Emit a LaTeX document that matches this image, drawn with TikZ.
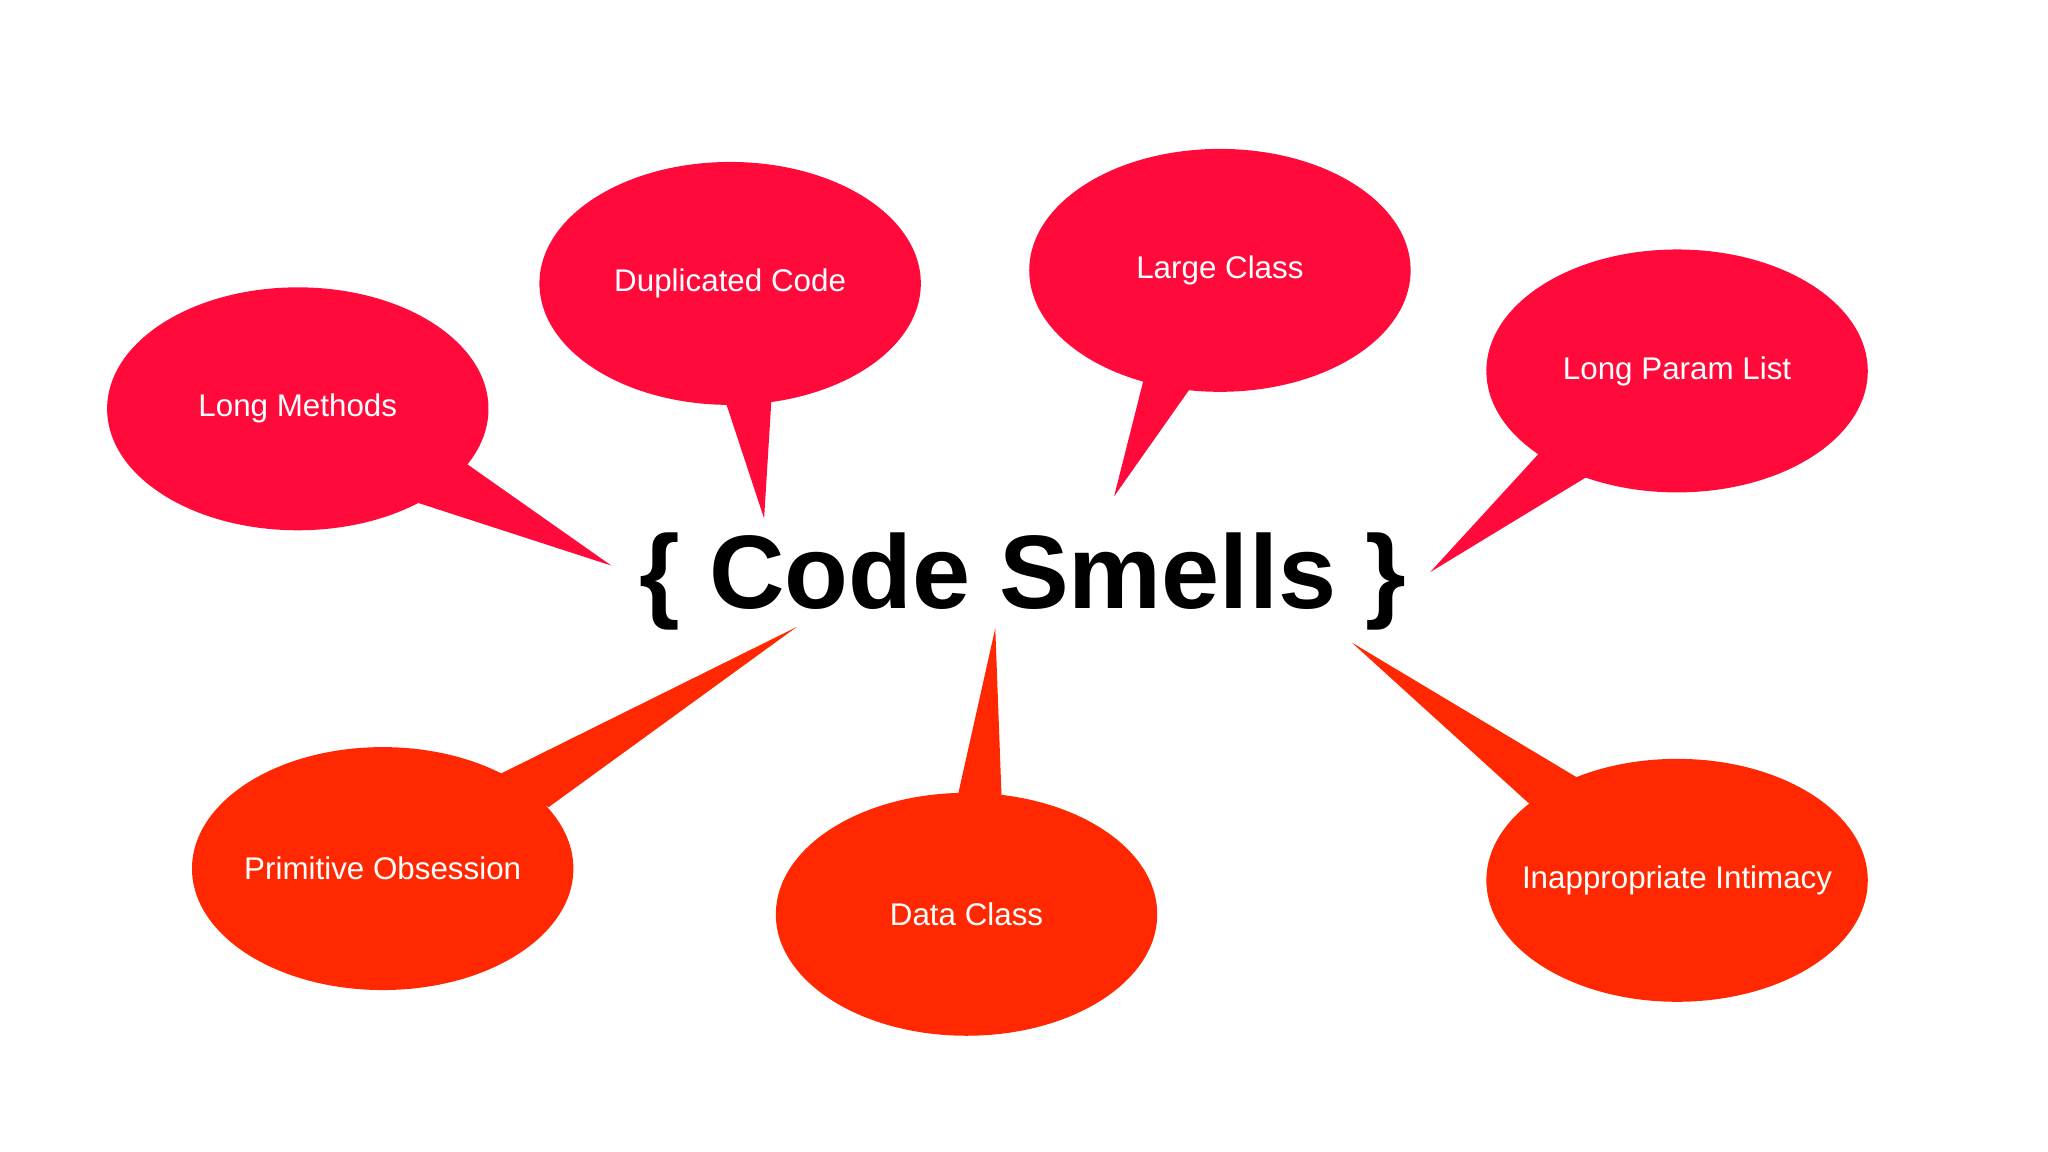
\documentclass[tikz,border=0pt]{standalone}
\usepackage{fontspec}
\setmainfont{Liberation Sans}
\definecolor{pinkred}{HTML}{FF0A3A}
\definecolor{orangered}{HTML}{FF2800}
\tikzset{
  bubble/.style={ellipse shape/.style={}},
  lbl/.style={text=white,font=\fontsize{24}{28}\selectfont},
}
\begin{document}
\begin{tikzpicture}[x=1pt,y=-1pt]
\useasboundingbox[fill=white] (0,0) rectangle (1568,882);
\node[font=\bfseries\fontsize{80}{90}\selectfont] (title) at (783,445) {\{ Code Smells \}};
\coordinate (t1) at (468,433);
\coordinate (t2) at (585,397);
\coordinate (t3) at (853,380);
\coordinate (t4) at (1095,438);
\coordinate (t5) at (610,480);
\coordinate (t6) at (762,481);
\coordinate (t7) at (1035,492);
% top
\fill[pinkred] (228,313) ellipse[x radius=146,y radius=93];
\fill[pinkred] (350,350) -- (320,385) -- (t1) -- cycle;
\node[lbl] (a) at (228,313) {Long Methods};
\fill[pinkred] (559,217) ellipse[x radius=146,y radius=93];
\fill[pinkred] (553,300) -- (591,300) -- (t2) -- cycle;
\node[lbl] (b) at (559,217) {Duplicated Code};
\fill[pinkred] (934,207) ellipse[x radius=146,y radius=93];
\fill[pinkred] (877,285) -- (915,292) -- (t3) -- cycle;
\node[lbl] (c) at (934,207) {Large Class};
\fill[pinkred] (1284,284) ellipse[x radius=146,y radius=93];
\fill[pinkred] (1183,342) -- (1220,362) -- (t4) -- cycle;
\node[lbl] (d) at (1284,284) {Long Param List};
% bottom
\fill[orangered] (293,665) ellipse[x radius=146,y radius=93];
\fill[orangered] (378,595) -- (420,618) -- (t5) -- cycle;
\node[lbl] (e) at (293,665) {Primitive Obsession};
\fill[orangered] (740,700) ellipse[x radius=146,y radius=93];
\fill[orangered] (732,615) -- (767,615) -- (t6) -- cycle;
\node[lbl] (f) at (740,700) {Data Class};
\fill[orangered] (1284,674) ellipse[x radius=146,y radius=93];
\fill[orangered] (1176,620) -- (1212,598) -- (t7) -- cycle;
\node[lbl] (g) at (1284,674) {Inappropriate Intimacy};
\end{tikzpicture}
\end{document}
